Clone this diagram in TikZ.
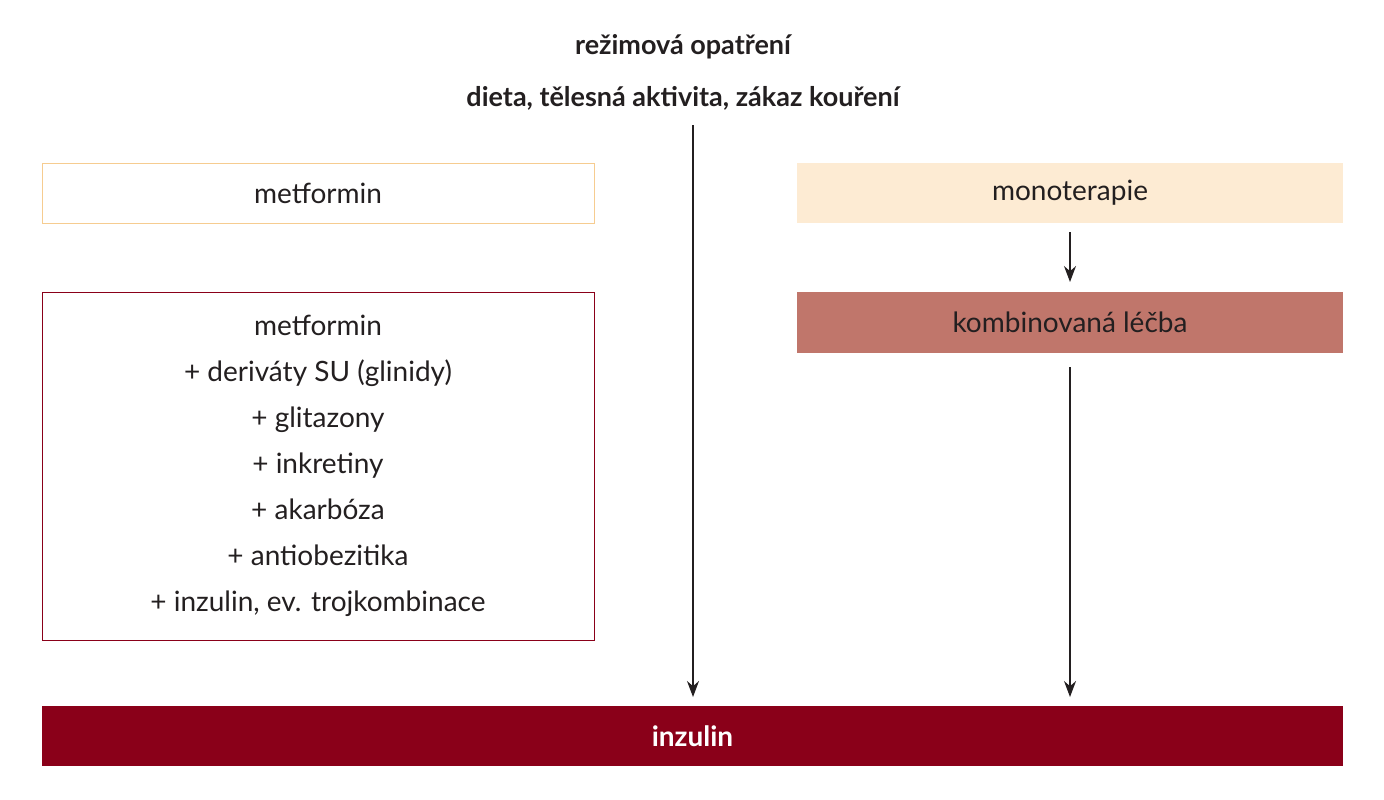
\documentclass[tikz,border=0pt]{standalone}
\usepackage{fontspec}
\setmainfont{Lato}
\usetikzlibrary{arrows.meta}
\definecolor{lightfill}{HTML}{FDEBD3}
\definecolor{lightedge}{HTML}{F6CC90}
\definecolor{darkred}{HTML}{8A0019}
\definecolor{midred}{HTML}{C0766B}
\definecolor{textc}{HTML}{231F20}
\begin{document}
\begin{tikzpicture}[x=1pt,y=-1pt,
  box/.style={minimum height=60pt,inner sep=0pt,text=textc,font=\fontsize{28}{46}\selectfont},
  arr/.style={-{Stealth[length=16pt,width=12pt]},line width=1.2pt,textc}]
\useasboundingbox (0,0) rectangle (1384,800);
\node[font=\bfseries\fontsize{27}{30}\selectfont,text=textc] (t1) at (683,47) {režimová opatření};
\node[font=\bfseries\fontsize{27}{30}\selectfont,text=textc] (t2) at (683,98) {dieta, tělesná aktivita, zákaz kouření};
\node[box,draw=lightedge,line width=1pt,minimum width=552pt] (m) at (318,193) {metformin};
\node[box,draw=darkred,line width=1pt,minimum width=552pt,minimum height=348pt,align=center] (c) at (318,466) {metformin\\+ deriváty SU (glinidy)\\+ glitazony\\+ inkretiny\\+ akarbóza\\+ antiobezitika\\+ inzulin, ev. trojkombinace};
\node[box,fill=lightfill,minimum width=546pt] (mono) at (1070,193) {monoterapie};
\node[box,fill=midred,minimum width=546pt,minimum height=61pt] (komb) at (1070,322.5) {kombinovaná léčba};
\node[box,fill=darkred,minimum width=1301pt,text=white,font=\bfseries\fontsize{28}{30}\selectfont] (inz) at (692.5,736) {inzulin};
\coordinate (a1) at (693,125);
\draw[arr] (a1) -- (693,697);
\draw[arr] (mono.south -| 1070,0) ++(0,9) -- (1070,282);
\draw[arr] (komb.south) ++(0,14) -- (1070,697);
\end{tikzpicture}
\end{document}
